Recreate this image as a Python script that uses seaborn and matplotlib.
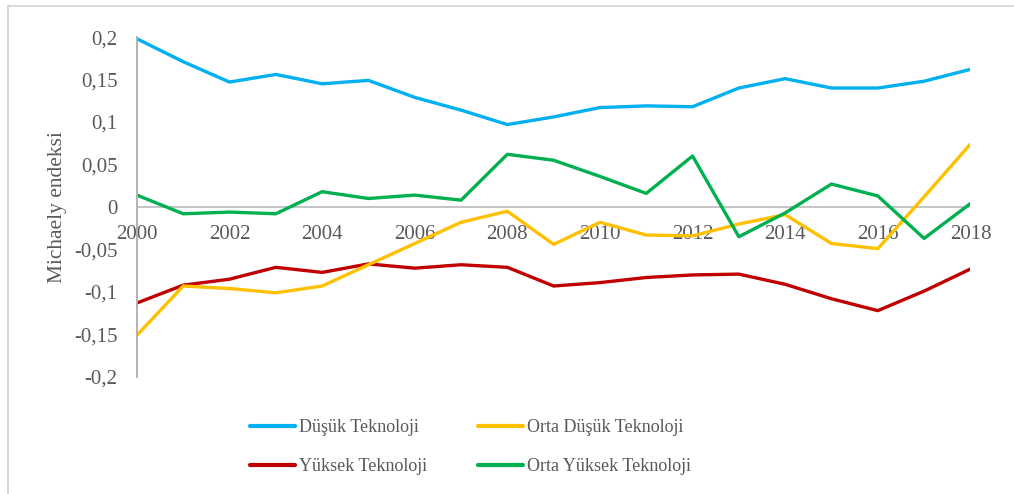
import pandas as pd
import matplotlib
matplotlib.use("Agg")
import matplotlib.pyplot as plt
import seaborn as sns
from matplotlib.lines import Line2D

# data
years = list(range(2000, 2019))
dusuk = [0.198, 0.171, 0.147, 0.156, 0.145, 0.149, 0.129, 0.114, 0.097, 0.106,
         0.117, 0.119, 0.118, 0.140, 0.151, 0.140, 0.140, 0.148, 0.162]
orta_dusuk = [-0.151, -0.093, -0.096, -0.101, -0.093, -0.068, -0.043, -0.018, -0.005, -0.044,
              -0.018, -0.033, -0.034, -0.020, -0.009, -0.043, -0.049, 0.012, 0.074]
yuksek = [-0.113, -0.092, -0.085, -0.071, -0.077, -0.067, -0.072, -0.068, -0.071, -0.093,
          -0.089, -0.083, -0.080, -0.079, -0.091, -0.108, -0.122, -0.099, -0.073]
orta_yuksek = [0.014, -0.008, -0.006, -0.008, 0.018, 0.010, 0.014, 0.008, 0.062, 0.055,
               0.036, 0.016, 0.060, -0.035, -0.007, 0.027, 0.013, -0.037, 0.004]

series = ["Düşük Teknoloji", "Yüksek Teknoloji", "Orta Düşük Teknoloji", "Orta Yüksek Teknoloji"]
colors = {"Düşük Teknoloji": "#00B0F0", "Orta Düşük Teknoloji": "#FFC000",
          "Yüksek Teknoloji": "#C00000", "Orta Yüksek Teknoloji": "#00B050"}
x_ticks = [2000, 2002, 2004, 2006, 2008, 2010, 2012, 2014, 2016, 2018]
y_ticks = [-0.2, -0.15, -0.1, -0.05, 0, 0.05, 0.1, 0.15, 0.2]
y_labels = ["-0,2", "-0,15", "-0,1", "-0,05", "0", "0,05", "0,1", "0,15", "0,2"]

df = pd.DataFrame({
    "year": years * 4,
    "value": dusuk + yuksek + orta_dusuk + orta_yuksek,
    "series": [s for s in series for _ in years],
})

sns.set_style("white")
plt.rcParams["font.family"] = ["Liberation Serif", "DejaVu Serif"]
text_color = "#595959"

fig = plt.figure(figsize=(10.14, 4.94), dpi=100)
ax = fig.add_axes([0.135, 0.237, 0.822, 0.688])

sns.lineplot(data=df, x="year", y="value", hue="series", hue_order=series,
             palette=colors, linewidth=2.4, ax=ax, legend=False)

ax.set_xlim(2000, 2018)
ax.set_ylim(-0.2, 0.2)
ax.set_yticks(y_ticks)
ax.set_yticklabels(y_labels, fontsize=15, color=text_color)
ax.set_xticks([])
ax.tick_params(axis="y", length=0, pad=14)

for s in ["top", "right", "bottom"]:
    ax.spines[s].set_visible(False)
ax.spines["left"].set_color("#ADADAD")
ax.spines["left"].set_linewidth(1.3)
ax.axhline(0, color="#BFBFBF", linewidth=1.3, zorder=0)

# x labels sit just under the zero line
for yr in x_ticks:
    ax.text(yr, -0.021, str(yr), ha="center", va="top", fontsize=15,
            color=text_color, zorder=1)

ax.set_xlabel("")
ax.set_ylabel("Michaely endeksi", fontsize=15.4, color=text_color)
ax.yaxis.set_label_coords(-0.084, 0.5)

handles = [Line2D([0], [0], color=colors[s], linewidth=3) for s in series]
fig.legend(handles, series, ncol=2, loc="center", bbox_to_anchor=(0.464, 0.095),
           frameon=False, fontsize=13, labelcolor=text_color, handlelength=2.5,
           handletextpad=0.25, columnspacing=2.8, labelspacing=1.2)

# grey chart frame (left and top edges visible)
fig.add_artist(Line2D([8 / 1014, 8 / 1014], [0, 1 - 6 / 494], transform=fig.transFigure,
                      color="#D9D9D9", linewidth=1.5))
fig.add_artist(Line2D([8 / 1014, 1], [1 - 6 / 494, 1 - 6 / 494], transform=fig.transFigure,
                      color="#D9D9D9", linewidth=1.5))

fig.savefig("out.png", dpi=100, facecolor="white")
